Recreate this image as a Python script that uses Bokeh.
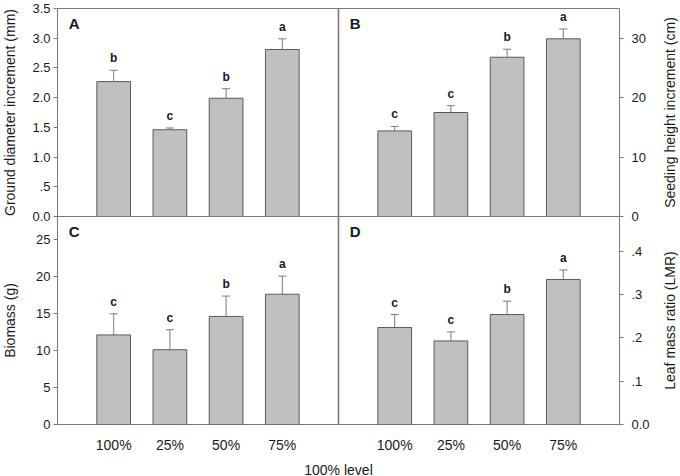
import math
from bokeh.plotting import figure
from bokeh.layouts import row
from bokeh.models import (FixedTicker, Whisker, ColumnDataSource, Label, TeeHead,
                          Range1d, LinearAxis, Span)
from bokeh.embed import file_html
from bokeh.resources import INLINE
from bokeh.core.properties import value

categories = ["100%", "25%", "50%", "75%"]
positions = [1, 2, 3, 4]

diam_mean = [2.27, 1.46, 1.99, 2.81]
diam_err = [0.19, 0.03, 0.16, 0.18]
diam_letters = ["b", "c", "b", "a"]
diam_ticks = [0, 0.5, 1.0, 1.5, 2.0, 2.5, 3.0, 3.5]
diam_tick_labels = ["0.0", ".5", "1.0", "1.5", "2.0", "2.5", "3.0", "3.5"]

height_mean = [14.4, 17.5, 26.8, 29.9]
height_err = [0.75, 1.15, 1.35, 1.65]
height_letters = ["c", "c", "b", "a"]
height_ticks = [0, 10, 20, 30]
height_tick_labels = ["0", "10", "20", "30"]

biomass_mean = [12.1, 10.1, 14.6, 17.6]
biomass_err = [2.85, 2.7, 2.75, 2.45]
biomass_letters = ["c", "c", "b", "a"]
biomass_ticks = [0, 5, 10, 15, 20, 25]
biomass_tick_labels = ["0", "5", "10", "15", "20", "25"]

lmr_mean = [0.224, 0.193, 0.254, 0.335]
lmr_err = [0.030, 0.021, 0.031, 0.022]
lmr_letters = ["c", "c", "b", "a"]
lmr_ticks = [0, 0.1, 0.2, 0.3, 0.4]
lmr_tick_labels = ["0.0", ".1", ".2", ".3", ".4"]

left_titles = ["Ground diameter increment (mm)", "Biomass (g)"]
right_titles = ["Seeding height increment (cm)", "Leaf mass ratio (LMR)"]
x_title = "100% level"

FONT = "Liberation Sans"
TXT = "#1a1a1a"
AX = "#7a7a7a"

# panel value limits (top of each panel's scale)
A_TOP, B_TOP, C_TOP, D_TOP = 3.5, 35.0, 28.1, 0.4805

FRAME_H = 416
TOP_B = 8
BOT_B = 52

# default ranges: x 0..10 (left panels 0..5), y 0..1 (upper panels 0.5..1)
xdef = Range1d(0, 10)
ydef = Range1d(0, 1)
ranges_x = {"R": Range1d(-5, 5)}
ranges_y = {
    "A": Range1d(-A_TOP, A_TOP),
    "B": Range1d(-B_TOP, B_TOP),
    "C": Range1d(0, 2 * C_TOP),
    "D": Range1d(0, 2 * D_TOP),
}


def remap(vals, src, dst):
    return [dst.start + (v - src.start) * (dst.end - dst.start) / (src.end - src.start)
            for v in vals]


p = figure(frame_width=562, frame_height=FRAME_H, x_range=xdef, y_range=ydef,
           min_border_left=35, min_border_right=35, min_border_top=TOP_B,
           min_border_bottom=BOT_B, toolbar_location=None, output_backend="svg")
p.extra_x_ranges = ranges_x
p.extra_y_ranges = ranges_y
p.xgrid.visible = False
p.ygrid.visible = False
p.yaxis.visible = False
p.outline_line_color = AX
p.outline_line_width = 1

p.add_layout(Span(location=5, dimension="height", line_color=AX, line_width=1.6))
p.add_layout(Span(location=0.5, dimension="width", line_color=AX, line_width=1.2))


def panel(mean, err, letters, tag, top, xr, yr):
    src = ColumnDataSource(dict(
        x=positions, mean=mean,
        upper=[m + e for m, e in zip(mean, err)],
        letter=letters,
    ))
    p.vbar(x="x", top="mean", width=0.6, source=src,
           fill_color="#c0c0c0", line_color="#5a5a5a", line_width=1,
           x_range_name=xr, y_range_name=yr)
    w = Whisker(source=src, base="x", lower="mean", upper="upper",
                line_color=AX, line_width=1,
                upper_head=TeeHead(size=8, line_color=AX, line_width=1),
                lower_head=None, x_range_name=xr, y_range_name=yr)
    p.add_layout(w)
    p.text(x="x", y="upper", text="letter", source=src,
           text_align="center", text_baseline="bottom", y_offset=-5,
           text_font=value(FONT), text_font_size="12px",
           text_font_style="bold", text_color=TXT,
           x_range_name=xr, y_range_name=yr)
    p.add_layout(Label(x=0.2, y=top * 0.97, text=tag, text_baseline="top",
                       text_font=FONT, text_font_size="15px",
                       text_font_style="bold", text_color=TXT,
                       x_range_name=xr, y_range_name=yr))


panel(diam_mean, diam_err, diam_letters, "A", A_TOP, "default", "A")
panel(height_mean, height_err, height_letters, "B", B_TOP, "R", "B")
panel(biomass_mean, biomass_err, biomass_letters, "C", C_TOP, "default", "C")
panel(lmr_mean, lmr_err, lmr_letters, "D", D_TOP, "R", "D")


def style_y(ax, standoff):
    ax.minor_tick_line_color = None
    ax.major_tick_in = 0
    ax.major_tick_out = 4
    ax.major_tick_line_color = AX
    ax.axis_line_color = None
    ax.major_label_standoff = standoff
    ax.major_label_text_font = FONT
    ax.major_label_text_font_size = "13px"
    ax.major_label_text_color = TXT


# left axis: panel A (top) and panel C (bottom)
left_pos = remap(diam_ticks, ranges_y["A"], ydef) + remap(biomass_ticks, ranges_y["C"], ydef)
left_lab = diam_tick_labels + biomass_tick_labels
lax = LinearAxis(ticker=FixedTicker(ticks=left_pos),
                 major_label_overrides=dict(zip(left_pos, left_lab)))
style_y(lax, 3)
p.add_layout(lax, "left")

# right axis: panel B (top) and panel D (bottom)
right_pos = remap(height_ticks, ranges_y["B"], ydef) + remap(lmr_ticks, ranges_y["D"], ydef)
right_lab = height_tick_labels + lmr_tick_labels
rax = LinearAxis(ticker=FixedTicker(ticks=right_pos),
                 major_label_overrides=dict(zip(right_pos, right_lab)))
style_y(rax, 8)
p.add_layout(rax, "right")

# bottom axis: categories of both lower panels
x_pos = list(positions) + remap(positions, ranges_x["R"], xdef)
x_lab = categories + categories
xa = p.xaxis[0]
xa.ticker = FixedTicker(ticks=x_pos)
xa.major_label_overrides = dict(zip(x_pos, x_lab))
xa.major_tick_line_color = None
xa.major_tick_out = 0
xa.major_tick_in = 0
xa.minor_tick_line_color = None
xa.minor_tick_out = 0
xa.axis_line_color = None
xa.major_label_standoff = 12
xa.major_label_text_font = FONT
xa.major_label_text_font_size = "14px"
xa.major_label_text_color = TXT
xa.axis_label = x_title
xa.axis_label_standoff = 6
xa.axis_label_text_font = FONT
xa.axis_label_text_font_size = "14px"
xa.axis_label_text_font_style = "normal"
xa.axis_label_text_color = TXT


def side(width, xpos, titles):
    s = figure(frame_width=width, frame_height=FRAME_H, x_range=Range1d(0, 1),
               y_range=ydef, min_border_left=0, min_border_right=0,
               min_border_top=TOP_B, min_border_bottom=BOT_B,
               x_axis_location=None, y_axis_location=None,
               toolbar_location=None, output_backend="svg")
    s.xgrid.visible = False
    s.ygrid.visible = False
    s.outline_line_color = None
    src = ColumnDataSource(dict(x=[xpos, xpos], y=[0.75, 0.25], t=titles))
    s.text(x="x", y="y", text="t", source=src, angle=math.pi / 2,
           text_align="center", text_baseline="middle",
           text_font=value(FONT), text_font_size="14px", text_color=TXT)
    return s


sl = side(22, 0.45, left_titles)
sr = side(24, 0.65, right_titles)

layout = row(sl, p, sr)
open("out.html", "w").write(file_html(layout, INLINE))
